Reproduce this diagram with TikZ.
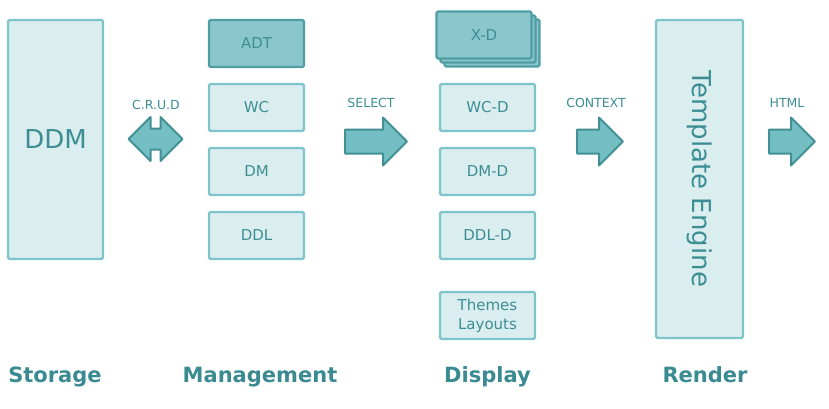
\documentclass[tikz,border=0pt]{standalone}
\usepackage{fontspec}
\setmainfont{DejaVu Sans}
\usetikzlibrary{positioning,shapes.arrows}
\definecolor{boxfill}{HTML}{DAEDEF}
\definecolor{boxline}{HTML}{7DC5CA}
\definecolor{boxtext}{HTML}{3D8E94}
\definecolor{darkfill}{HTML}{8CC6CD}
\definecolor{darkline}{HTML}{4F9EA3}
\definecolor{arrowfill}{HTML}{73BFC4}
\definecolor{arrowline}{HTML}{428F94}
\definecolor{heading}{HTML}{3A8A91}

\begin{document}
\begin{tikzpicture}[x=1pt,y=-1pt]
    \tikzstyle{box}=[draw=boxline, fill=boxfill, line width=2.4pt, rounded corners=1.5pt, text=boxtext, minimum width=95pt, minimum height=47pt, font=\fontsize{15}{19}\selectfont, align=center, node distance=64pt, on grid]
    \tikzstyle{dark}=[draw=darkline, fill=darkfill]
    \tikzstyle{big}=[font=\fontsize{26}{31}\selectfont]
    \tikzstyle{flow}=[single arrow, draw=arrowline, fill=arrowfill, line width=2pt, line join=round, inner xsep=0pt, inner ysep=11pt, single arrow head extend=12pt, anchor=tail]
    \tikzstyle{tag}=[text=boxtext, font=\fontsize{12.5}{15}\selectfont]
    \tikzstyle{stage}=[text=heading, font=\fontsize{21}{25}\selectfont\bfseries, anchor=base]

    \useasboundingbox (0,0) rectangle (829,409);

    % storage
    \node[box,big,minimum height=239pt] (ddm) at (55.5,139.5) {DDM};

    % management
    \node[box,dark] (adt) at (256.5,43.5) {ADT};
    \node[box,below of=adt] (wc) {WC};
    \node[box,below of=wc] (dm) {DM};
    \node[box,below of=dm] (ddl) {DDL};

    % display
    \node[box,dark] (xdback) at (492,43) {};
    \node[box,dark] (xdmid) at (488,39) {};
    \node[box,dark] (xd) at (484,35) {X-D};
    \node[box] (wcd) at (487.5,107.5) {WC-D};
    \node[box,below of=wcd] (dmd) {DM-D};
    \node[box,below of=dmd] (ddld) {DDL-D};
    \node[box,below=80pt of ddld] (themes) {Themes\\Layouts};

    % render
    \node[box,big,rotate=-90,minimum width=318pt,minimum height=87pt] (engine) at (699.5,179) {Template Engine};

    % arrows
    \node[double arrow, draw=arrowline, fill=arrowfill, line width=2pt, line join=round, inner xsep=0pt, inner ysep=9.5pt, double arrow head extend=11.5pt, minimum height=54pt] (crud) at (155.5,139) {};
    \node[flow,minimum height=62pt] (select) at (344,141.5) {};
    \node[flow,minimum height=46pt] (context) at (576,141.5) {};
    \node[flow,minimum height=46pt] (html) at (768,141.5) {};

    \node[tag] (crudlabel) at (156,105) {C.R.U.D};
    \node[tag] (selectlabel) at (371,103) {SELECT};
    \node[tag] (contextlabel) at (596,103) {CONTEXT};
    \node[tag] (htmllabel) at (787,103) {HTML};

    % stages
    \node[stage] (storage) at (55,382) {Storage};
    \node[stage] (management) at (260,382) {Management};
    \node[stage] (display) at (487.5,382) {Display};
    \node[stage] (render) at (705,382) {Render};
\end{tikzpicture}
\end{document}
